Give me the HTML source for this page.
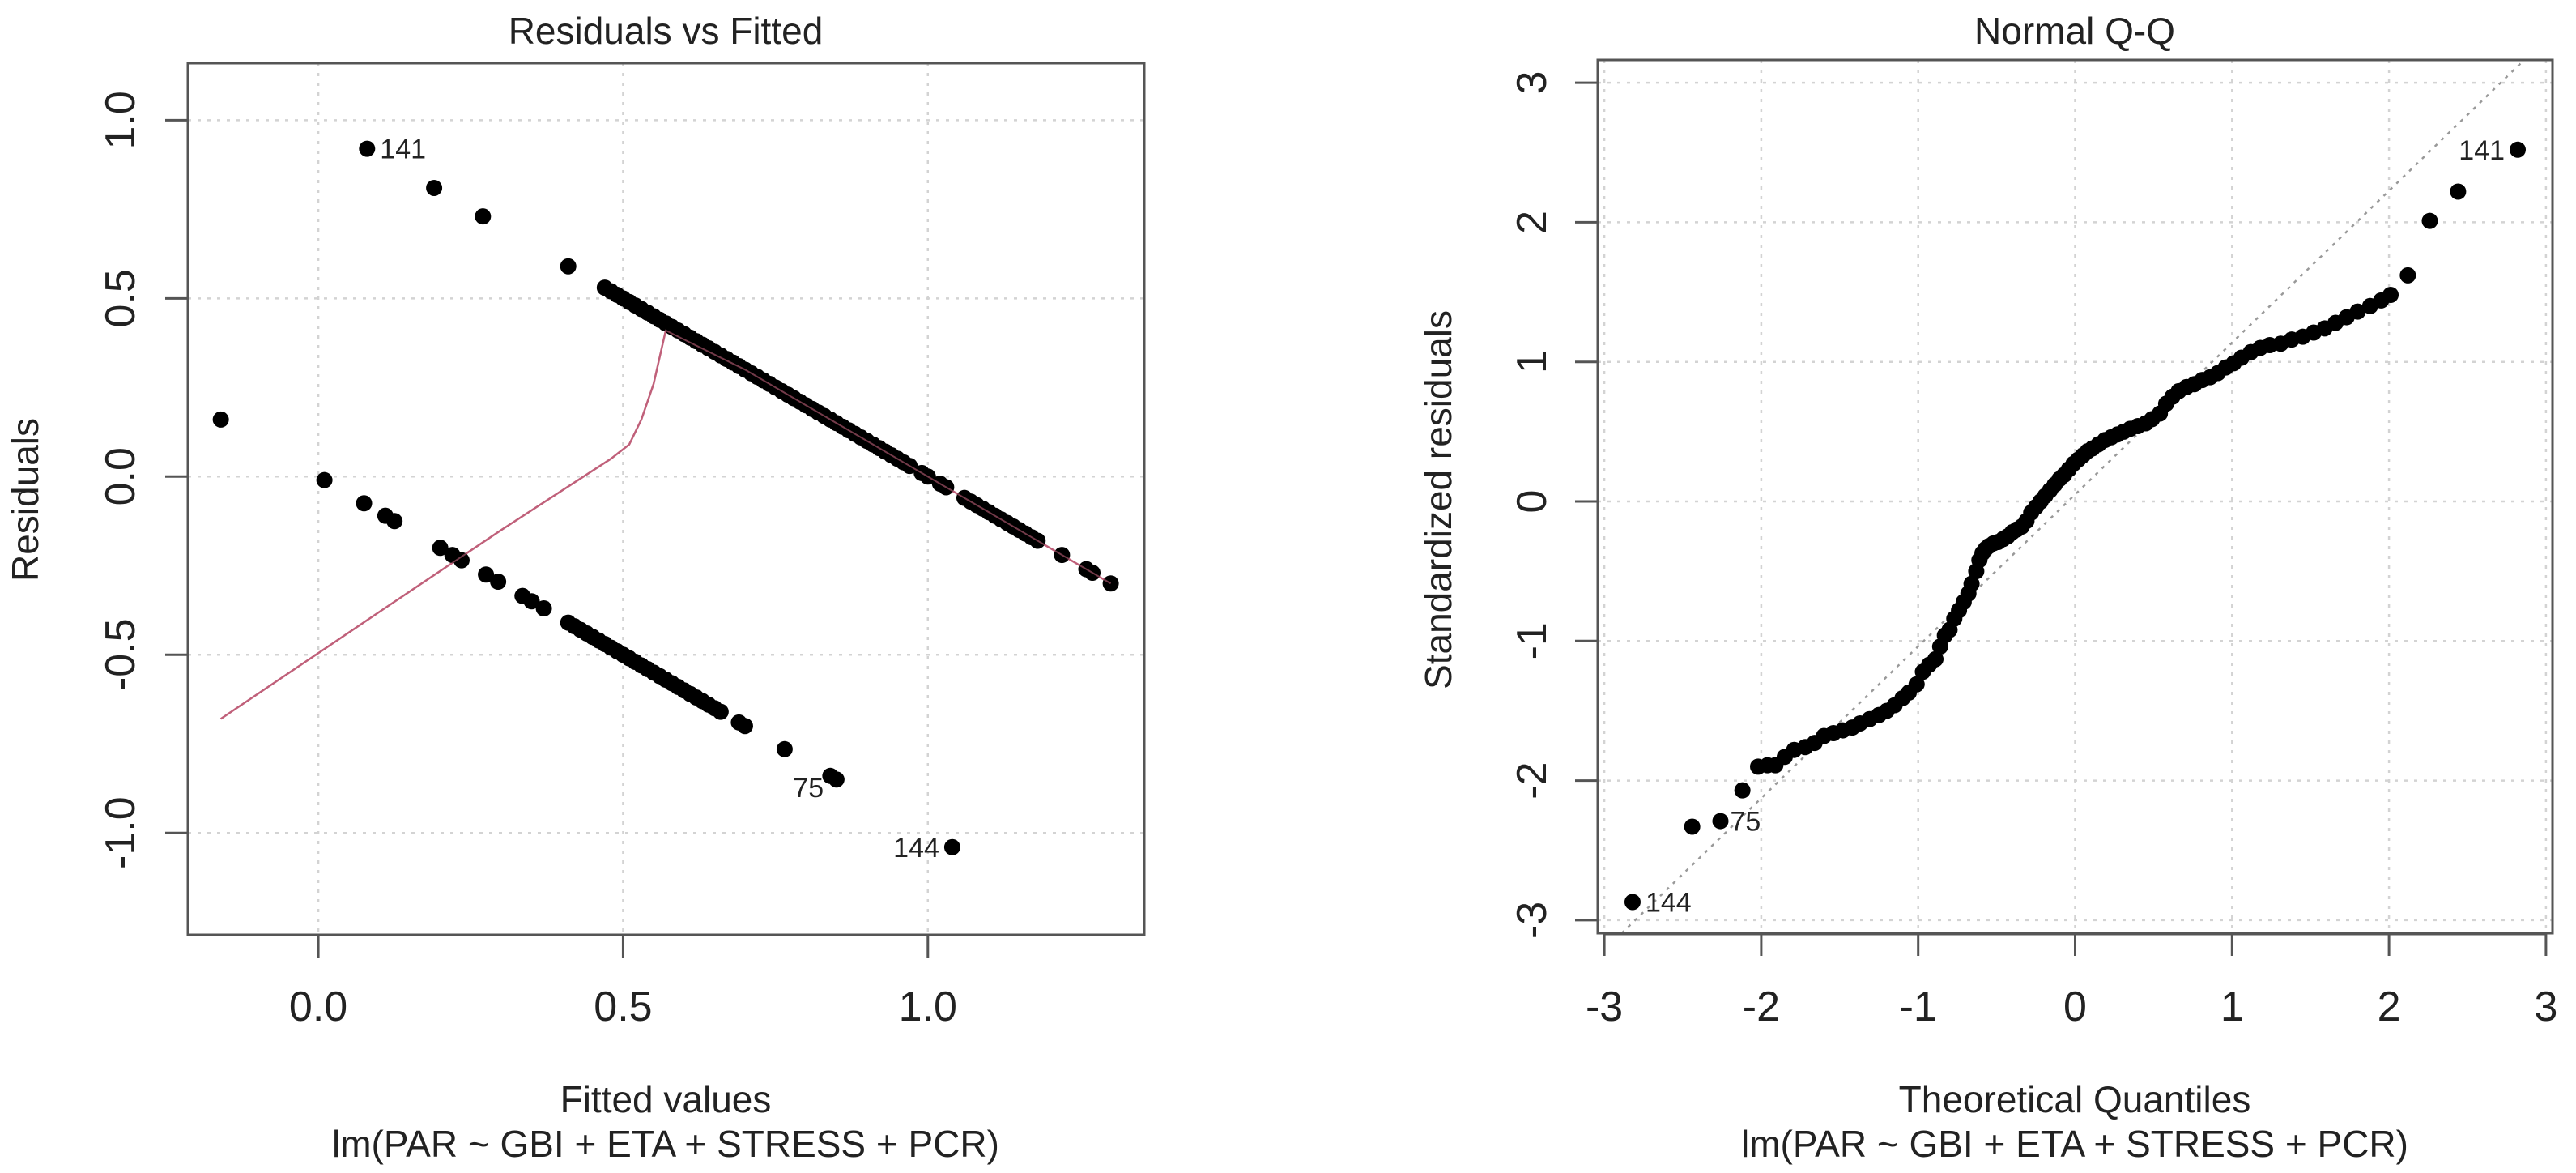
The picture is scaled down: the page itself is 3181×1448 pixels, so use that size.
<!DOCTYPE html>
<html><head><meta charset="utf-8"><style>
html,body{margin:0;padding:0;background:#fff;}
svg{display:block;font-family:"Liberation Sans",Arial,sans-serif;}
</style></head><body>
<svg id="chart" width="3181" height="1448" viewBox="0 0 3181 1448" xmlns="http://www.w3.org/2000/svg">
<g id="left"></g>
<g id="right"></g>
</svg>
<script>
// ---- Residuals vs Fitted data ----
const upperFitted = [0.08,0.19,0.27,0.41,0.47,0.48,0.49,0.50,0.51,0.52,0.53,0.54,0.55,0.56,0.57,0.58,0.59,0.60,0.61,0.62,0.63,0.64,0.65,0.66,0.67,0.68,0.69,0.70,0.71,0.72,0.73,0.74,0.75,0.76,0.77,0.78,0.79,0.80,0.81,0.82,0.83,0.84,0.85,0.86,0.87,0.88,0.89,0.90,0.91,0.92,0.93,0.94,0.95,0.96,0.97,0.99,1.00,1.02,1.03,1.06,1.07,1.08,1.09,1.10,1.11,1.12,1.13,1.14,1.15,1.16,1.17,1.18,1.22,1.26,1.27,1.30];
const upperResid = [0.92,0.81,0.73,0.59,0.53,0.52,0.51,0.50,0.49,0.48,0.47,0.46,0.45,0.44,0.43,0.42,0.41,0.40,0.39,0.38,0.37,0.36,0.35,0.34,0.33,0.32,0.31,0.30,0.29,0.28,0.27,0.26,0.25,0.24,0.23,0.22,0.21,0.20,0.19,0.18,0.17,0.16,0.15,0.14,0.13,0.12,0.11,0.10,0.09,0.08,0.07,0.06,0.05,0.04,0.03,0.01,0.00,-0.02,-0.03,-0.06,-0.07,-0.08,-0.09,-0.10,-0.11,-0.12,-0.13,-0.14,-0.15,-0.16,-0.17,-0.18,-0.22,-0.26,-0.27,-0.30];
const lowerFitted = [-0.16,0.01,0.075,0.11,0.125,0.20,0.22,0.235,0.275,0.295,0.335,0.35,0.37,0.41,0.42,0.43,0.44,0.45,0.46,0.47,0.48,0.49,0.50,0.51,0.52,0.53,0.54,0.55,0.56,0.57,0.58,0.59,0.60,0.61,0.62,0.63,0.64,0.65,0.66,0.69,0.70,0.765,0.84,0.85,1.04];
const lowerResid = [0.16,-0.01,-0.075,-0.11,-0.125,-0.20,-0.22,-0.235,-0.275,-0.295,-0.335,-0.35,-0.37,-0.41,-0.42,-0.43,-0.44,-0.45,-0.46,-0.47,-0.48,-0.49,-0.50,-0.51,-0.52,-0.53,-0.54,-0.55,-0.56,-0.57,-0.58,-0.59,-0.60,-0.61,-0.62,-0.63,-0.64,-0.65,-0.66,-0.69,-0.70,-0.765,-0.84,-0.85,-1.04];
const smoothX = [-0.16,0.10,0.30,0.48,0.51,0.53,0.55,0.57,0.70,0.90,1.10,1.30];
const smoothY = [-0.68,-0.38,-0.15,0.05,0.09,0.16,0.26,0.41,0.30,0.10,-0.10,-0.30];
const leftXTicks = [0.0,0.5,1.0];
const leftXTickLabels = ["0.0","0.5","1.0"];
const leftYTicks = [1.0,0.5,0.0,-0.5,-1.0];
const leftYTickLabels = ["1.0","0.5","0.0","-0.5","-1.0"];
const leftLabelNames = ["141","75","144"];
const leftLabelX = [0.08,0.845,1.04];
const leftLabelY = [0.92,-0.84,-1.04];

// ---- Normal Q-Q data ----
const qqX = [-2.82,-2.44,-2.26,-2.12,-2.02,-1.96,-1.91,-1.85,-1.79,-1.72,-1.66,-1.60,-1.54,-1.48,-1.42,-1.37,-1.31,-1.25,-1.20,-1.15,-1.10,-1.06,-1.01,-0.97,-0.93,-0.89,-0.86,-0.83,-0.80,-0.77,-0.74,-0.71,-0.68,-0.66,-0.63,-0.61,-0.59,-0.57,-0.55,-0.52,-0.49,-0.46,-0.43,-0.40,-0.37,-0.34,-0.31,-0.28,-0.25,-0.22,-0.19,-0.16,-0.13,-0.10,-0.07,-0.04,-0.01,0.02,0.05,0.08,0.11,0.15,0.19,0.23,0.27,0.31,0.35,0.40,0.45,0.49,0.54,0.58,0.62,0.66,0.71,0.76,0.81,0.86,0.91,0.96,1.01,1.06,1.12,1.18,1.24,1.31,1.38,1.45,1.52,1.59,1.66,1.73,1.80,1.88,1.95,2.01,2.12,2.26,2.44,2.82];
const qqY = [-2.87,-2.33,-2.29,-2.07,-1.90,-1.89,-1.89,-1.83,-1.78,-1.76,-1.73,-1.68,-1.66,-1.64,-1.62,-1.59,-1.56,-1.53,-1.50,-1.46,-1.41,-1.37,-1.31,-1.22,-1.17,-1.13,-1.04,-0.96,-0.92,-0.84,-0.78,-0.72,-0.66,-0.59,-0.50,-0.42,-0.37,-0.34,-0.32,-0.30,-0.29,-0.27,-0.25,-0.22,-0.20,-0.18,-0.14,-0.08,-0.04,0.00,0.04,0.08,0.12,0.16,0.19,0.23,0.27,0.30,0.33,0.36,0.38,0.41,0.44,0.46,0.48,0.50,0.52,0.54,0.56,0.59,0.63,0.70,0.75,0.79,0.82,0.84,0.87,0.89,0.92,0.96,0.99,1.03,1.07,1.10,1.12,1.13,1.16,1.18,1.21,1.24,1.28,1.32,1.36,1.40,1.44,1.48,1.62,2.01,2.22,2.52];
const qqLineIntercept = 0.05;
const qqLineSlope = 1.088;
const rightXTicks = [-3,-2,-1,0,1,2,3];
const rightXTickLabels = ["-3","-2","-1","0","1","2","3"];
const rightYTicks = [3,2,1,0,-1,-2,-3];
const rightYTickLabels = ["3","2","1","0","-1","-2","-3"];
const qqLabelNames = ["144","75","141"];
const qqLabelIdx = [0,2,99];

const NS = "http://www.w3.org/2000/svg";
function mk(parent, tag, attrs, text){
  const e = document.createElementNS(NS, tag);
  for (const k in attrs) e.setAttribute(k, attrs[k]);
  if (text !== undefined) e.textContent = text;
  parent.appendChild(e);
  return e;
}

const L = {x0:232, x1:1413, y0:78, y1:1154, dx0:-0.214, dx1:1.355, dy0:-1.286, dy1:1.16};
function lx(v){ return L.x0 + (v - L.dx0) / (L.dx1 - L.dx0) * (L.x1 - L.x0); }
function ly(v){ return L.y1 - (v - L.dy0) / (L.dy1 - L.dy0) * (L.y1 - L.y0); }
const R = {x0:1973, x1:3152, y0:74, y1:1152};
function rx(v){ return 2562.5 + v * 193.8; }
function ry(v){ return 619 - v * 172.3; }

const left = document.getElementById('left');
const right = document.getElementById('right');

for (let i = 0; i < leftXTicks.length; i++) {
  const x = lx(leftXTicks[i]);
  const g = mk(left, 'line', {x1:x, x2:x, y1:L.y0, y2:L.y1, stroke:'#d3d3d3', 'stroke-width':2.5, 'stroke-dasharray':'4 8'});
  
  
  const t = mk(left, 'line', {x1:x, x2:x, y1:L.y1, y2:L.y1 + 28, stroke:'#555', 'stroke-width':3});
  
  
  const lb = mk(left, 'text', {x:x, y:1260, 'text-anchor':'middle', 'font-size':52, fill:'#222'}, leftXTickLabels[i]);
  
  
}
for (let i = 0; i < leftYTicks.length; i++) {
  const y = ly(leftYTicks[i]);
  const g = mk(left, 'line', {x1:L.x0, x2:L.x1, y1:y, y2:y, stroke:'#d3d3d3', 'stroke-width':2.5, 'stroke-dasharray':'4 8'});
  
  
  const t = mk(left, 'line', {x1:L.x0 - 28, x2:L.x0, y1:y, y2:y, stroke:'#555', 'stroke-width':3});
  
  
  const lb = mk(left, 'text', {x:0, y:0, transform:'translate(166,' + y + ') rotate(-90)', 'text-anchor':'middle', 'font-size':52, fill:'#222'}, leftYTickLabels[i]);
  
  
}
let sp = '';
for (let i = 0; i < smoothX.length; i++) sp += (i ? ' L' : 'M') + lx(smoothX[i]).toFixed(1) + ',' + ly(smoothY[i]).toFixed(1);
const smooth = mk(left, 'path', {d:sp, fill:'none', stroke:'#c0607a', 'stroke-width':2.5});


for (let i = 0; i < upperFitted.length; i++) {
  const c = mk(left, 'circle', {cx:lx(upperFitted[i]), cy:ly(upperResid[i]), r:10, fill:'#000'});
  
  
}
for (let i = 0; i < lowerFitted.length; i++) {
  const c = mk(left, 'circle', {cx:lx(lowerFitted[i]), cy:ly(lowerResid[i]), r:10, fill:'#000'});
  
  
}
const smooth2 = mk(left, 'path', {d:sp, fill:'none', stroke:'#c0607a', 'stroke-width':2, opacity:0.6});


const lOff = [[16,12,'start'],[-12,26,'end'],[-16,12,'end']];
for (let i = 0; i < leftLabelNames.length; i++) {
  const t = mk(left, 'text', {x:lx(leftLabelX[i]) + lOff[i][0], y:ly(leftLabelY[i]) + lOff[i][1], 'text-anchor':lOff[i][2], 'font-size':34, fill:'#222'}, leftLabelNames[i]);
  
  
}
const lbox = mk(left, 'rect', {x:L.x0, y:L.y0, width:L.x1 - L.x0, height:L.y1 - L.y0, fill:'none', stroke:'#555', 'stroke-width':3});


const lt = mk(left, 'text', {x:822, y:54, 'text-anchor':'middle', 'font-size':46, fill:'#222'}, 'Residuals vs Fitted');


const lxt = mk(left, 'text', {x:822, y:1373, 'text-anchor':'middle', 'font-size':46, fill:'#222'}, 'Fitted values');


const lsub = mk(left, 'text', {x:822, y:1428, 'text-anchor':'middle', 'font-size':46, fill:'#222'}, 'lm(PAR ~ GBI + ETA + STRESS + PCR)');


const lyt = mk(left, 'text', {x:0, y:0, transform:'translate(47,617) rotate(-90)', 'text-anchor':'middle', 'font-size':46, fill:'#222'}, 'Residuals');



for (let i = 0; i < rightXTicks.length; i++) {
  const x = rx(rightXTicks[i]);
  if (x > R.x0 && x < R.x1) {
    const g = mk(right, 'line', {x1:x, x2:x, y1:R.y0, y2:R.y1, stroke:'#d3d3d3', 'stroke-width':2.5, 'stroke-dasharray':'4 8'});
    
    
  }
  const t = mk(right, 'line', {x1:x, x2:x, y1:R.y1, y2:R.y1 + 28, stroke:'#555', 'stroke-width':3});
  
  
  const lb = mk(right, 'text', {x:x, y:1260, 'text-anchor':'middle', 'font-size':52, fill:'#222'}, rightXTickLabels[i]);
  
  
}
const axl = mk(right, 'line', {x1:rx(-3), x2:rx(3), y1:R.y1 + 1, y2:R.y1 + 1, stroke:'#555', 'stroke-width':3});


for (let i = 0; i < rightYTicks.length; i++) {
  const y = ry(rightYTicks[i]);
  const g = mk(right, 'line', {x1:R.x0, x2:R.x1, y1:y, y2:y, stroke:'#d3d3d3', 'stroke-width':2.5, 'stroke-dasharray':'4 8'});
  
  
  const t = mk(right, 'line', {x1:R.x0 - 28, x2:R.x0, y1:y, y2:y, stroke:'#555', 'stroke-width':3});
  
  
  const lb = mk(right, 'text', {x:0, y:0, transform:'translate(1909,' + y + ') rotate(-90)', 'text-anchor':'middle', 'font-size':52, fill:'#222'}, rightYTickLabels[i]);
  
  
}
const xa = (R.x0 - 2562.5) / 193.8, xb = (R.x1 - 2562.5) / 193.8;
let pts = [];
for (const xv of [xa, xb]) pts.push([xv, qqLineIntercept + qqLineSlope * xv]);
const yTop = (619 - R.y0) / 172.3, yBot = (619 - R.y1) / 172.3;
function clipPt(p){
  if (p[1] > yTop) return [(yTop - qqLineIntercept) / qqLineSlope, yTop];
  if (p[1] < yBot) return [(yBot - qqLineIntercept) / qqLineSlope, yBot];
  return p;
}
const pA = clipPt(pts[0]), pB = clipPt(pts[1]);
const ref = mk(right, 'line', {x1:rx(pA[0]), y1:ry(pA[1]), x2:rx(pB[0]), y2:ry(pB[1]), stroke:'#999', 'stroke-width':2.5, 'stroke-dasharray':'4 7'});


for (let i = 0; i < qqX.length; i++) {
  const c = mk(right, 'circle', {cx:rx(qqX[i]), cy:ry(qqY[i]), r:10, fill:'#000'});
  
  
}
const qOff = [[16,12,'start'],[12,12,'start'],[-16,12,'end']];
for (let i = 0; i < qqLabelNames.length; i++) {
  const k = qqLabelIdx[i];
  const t = mk(right, 'text', {x:rx(qqX[k]) + qOff[i][0], y:ry(qqY[k]) + qOff[i][1], 'text-anchor':qOff[i][2], 'font-size':34, fill:'#222'}, qqLabelNames[i]);
  
  
}
const rbox = mk(right, 'rect', {x:R.x0, y:R.y0, width:R.x1 - R.x0, height:R.y1 - R.y0, fill:'none', stroke:'#555', 'stroke-width':3});


const rt = mk(right, 'text', {x:2562, y:54, 'text-anchor':'middle', 'font-size':46, fill:'#222'}, 'Normal Q-Q');


const rxt = mk(right, 'text', {x:2562, y:1373, 'text-anchor':'middle', 'font-size':46, fill:'#222'}, 'Theoretical Quantiles');


const rsub = mk(right, 'text', {x:2562, y:1428, 'text-anchor':'middle', 'font-size':46, fill:'#222'}, 'lm(PAR ~ GBI + ETA + STRESS + PCR)');


const ryt = mk(right, 'text', {x:0, y:0, transform:'translate(1792,617) rotate(-90)', 'text-anchor':'middle', 'font-size':46, fill:'#222'}, 'Standardized residuals');


</script>
</body></html>
